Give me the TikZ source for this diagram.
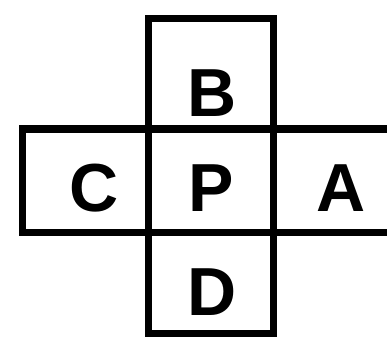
\documentclass[tikz,border=0pt]{standalone}
\usepackage{fontspec}
\setmainfont{Liberation Sans}
\usetikzlibrary{positioning}
\tikzset{
  case/.style={rectangle, draw=black, line width=7pt, inner sep=0pt, outer sep=0pt,
    minimum width=125pt, minimum height=103pt},
  trait/.style={line width=7pt, color=black},
  lettre/.style={font=\fontsize{68}{68}\selectfont\bfseries, text=black, inner sep=0pt}
}
\begin{document}
\begin{tikzpicture}[x=1pt, y=-1pt]
    \useasboundingbox (0,0) rectangle (387,339);
    \node[case] (P) at (210.5,180.5) {};
    \node[case, above=0pt of P, minimum height=110.5pt] (B) {};
    \node[case, below=0pt of P, minimum height=101pt] (D) {};
    \node[case, left=0pt of P, minimum width=126pt] (C) {};
    \coordinate (bord) at (390,0);

    % case A ouverte a droite
    \draw[trait] (P.north east) -- (P.north east -| bord);
    \draw[trait] (P.south east) -- (P.south east -| bord);

    \node[lettre] (lB) at (212,93) {B};
    \node[lettre] (lC) at (94,188) {C};
    \node[lettre] (lP) at (211,188) {P};
    \node[lettre] (lA) at (341,188) {A};
    \node[lettre] (lD) at (212,292) {D};
  \end{tikzpicture}
\end{document}
